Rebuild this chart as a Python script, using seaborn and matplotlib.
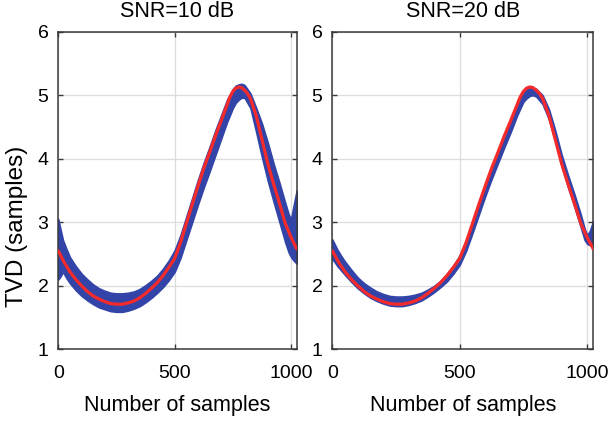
import matplotlib
matplotlib.use("Agg")
import matplotlib.pyplot as plt
import numpy as np
import pandas as pd
import seaborn as sns

# ---- data ----
titles = ["SNR=10 dB", "SNR=20 dB"]
x_ticks = [0, 500, 1000]
y_ticks = [1, 2, 3, 4, 5, 6]

# true TVD (red curve)
true_x = [0, 25, 50, 75, 100, 125, 150, 175, 200, 225, 250, 275, 300, 325, 350,
          375, 400, 425, 450, 475, 500, 525, 550, 575, 600, 625, 650, 675, 700,
          725, 737, 750, 762, 775, 787, 800, 812, 825, 850, 875, 900, 925, 950,
          975, 1000, 1024]
true_tvd = [2.55, 2.37, 2.22, 2.10, 2.00, 1.91, 1.84, 1.79, 1.75, 1.72, 1.71, 1.71,
            1.73, 1.76, 1.81, 1.88, 1.96, 2.05, 2.16, 2.29, 2.43, 2.68, 2.98, 3.28,
            3.57, 3.85, 4.10, 4.36, 4.60, 4.85, 4.97, 5.06, 5.11, 5.13, 5.12, 5.08,
            5.03, 4.95, 4.68, 4.30, 3.92, 3.60, 3.30, 2.98, 2.76, 2.58]

# envelope of estimated TVD realisations (blue band)
band_x = [0, 10, 20, 35, 50, 75, 100, 125, 150, 175, 200, 225, 250, 275, 300, 325,
          350, 375, 400, 425, 450, 475, 500, 525, 550, 575, 600, 625, 650, 675, 700,
          725, 750, 762, 775, 787, 800, 825, 850, 875, 900, 925, 950, 975, 990, 1000,
          1010, 1024]
snr10_upper = [3.05, 2.88, 2.72, 2.58, 2.45, 2.31, 2.19, 2.10, 2.02, 1.96, 1.92, 1.89,
               1.88, 1.88, 1.89, 1.91, 1.95, 2.01, 2.08, 2.16, 2.27, 2.40, 2.56, 2.80,
               3.09, 3.38, 3.67, 3.94, 4.19, 4.45, 4.69, 4.93, 5.10, 5.15, 5.17, 5.18,
               5.16, 5.03, 4.80, 4.55, 4.25, 3.92, 3.62, 3.30, 3.12, 3.05, 3.25, 3.50]
snr10_lower = [2.10, 2.15, 2.22, 2.12, 2.04, 1.93, 1.84, 1.77, 1.71, 1.66, 1.63, 1.60,
               1.59, 1.59, 1.61, 1.64, 1.68, 1.74, 1.81, 1.89, 1.98, 2.09, 2.22, 2.44,
               2.72, 3.00, 3.28, 3.55, 3.80, 4.06, 4.32, 4.58, 4.80, 4.88, 4.93, 4.96,
               4.96, 4.80, 4.42, 4.02, 3.65, 3.32, 3.00, 2.68, 2.52, 2.45, 2.40, 2.35]
snr20_upper = [2.73, 2.65, 2.57, 2.47, 2.38, 2.25, 2.13, 2.04, 1.97, 1.91, 1.87, 1.84,
               1.83, 1.83, 1.84, 1.86, 1.89, 1.94, 2.00, 2.08, 2.19, 2.32, 2.48, 2.72,
               3.01, 3.31, 3.60, 3.87, 4.12, 4.38, 4.62, 4.87, 5.05, 5.10, 5.12, 5.12,
               5.10, 5.00, 4.78, 4.44, 4.06, 3.74, 3.44, 3.12, 2.90, 2.80, 2.86, 3.02]
snr20_lower = [2.42, 2.37, 2.31, 2.24, 2.17, 2.06, 1.96, 1.88, 1.81, 1.76, 1.72, 1.69,
               1.68, 1.68, 1.70, 1.73, 1.77, 1.83, 1.90, 1.98, 2.07, 2.19, 2.33, 2.55,
               2.83, 3.12, 3.41, 3.68, 3.93, 4.18, 4.42, 4.68, 4.90, 4.95, 4.99, 5.00,
               4.98, 4.86, 4.62, 4.27, 3.88, 3.55, 3.24, 2.92, 2.72, 2.66, 2.64, 2.63]

bands = [(snr10_lower, snr10_upper), (snr20_lower, snr20_upper)]

# ---- style ----
sns.set_theme(style="white")
plt.rcParams["font.family"] = ["Liberation Sans", "DejaVu Sans"]

BLUE = "#3344A8"
RED = "#F52A2A"
SPINE = "#3a3a3a"

fig = plt.figure(figsize=(6.09, 4.22), dpi=100)
positions = [[0.0957, 0.1723, 0.3915, 0.7526],
             [0.5456, 0.1723, 0.4286, 0.7526]]

true_df = pd.DataFrame({"x": true_x, "tvd": true_tvd})

for i, pos in enumerate(positions):
    ax = fig.add_axes(pos)
    lo, hi = bands[i]
    ax.fill_between(band_x, lo, hi, color=BLUE, lw=1.2, edgecolor=BLUE, zorder=2)
    sns.lineplot(data=true_df, x="x", y="tvd", ax=ax, color=RED, lw=2.3,
                 estimator=None, sort=False, zorder=3)
    ax.set_xlim(0, 1024)
    ax.set_ylim(1, 6)
    ax.set_xticks(x_ticks)
    ax.set_yticks(y_ticks)
    ax.grid(True, color="#dcdcdc", lw=0.9, zorder=0)
    ax.set_axisbelow(True)
    for s in ax.spines.values():
        s.set_color(SPINE)
        s.set_linewidth(1.1)
        s.set_visible(True)
    ax.tick_params(direction="in", length=3.5, width=1.0, color=SPINE,
                   top=True, right=True, bottom=True, left=True,
                   labelsize=14, labelcolor="black")
    ax.tick_params(axis="x", pad=11)
    ax.tick_params(axis="y", pad=7)
    ax.set_title(titles[i], fontsize=15.5, pad=10.5, color="black")
    ax.set_xlabel("Number of samples", fontsize=15.5, labelpad=10, color="black")
    if i == 0:
        ax.set_ylabel("TVD (samples)", fontsize=17.5, color="black")
        ax.yaxis.set_label_coords(-0.128, 0.388)
    else:
        ax.set_ylabel("")

fig.savefig("out.png", dpi=100)
